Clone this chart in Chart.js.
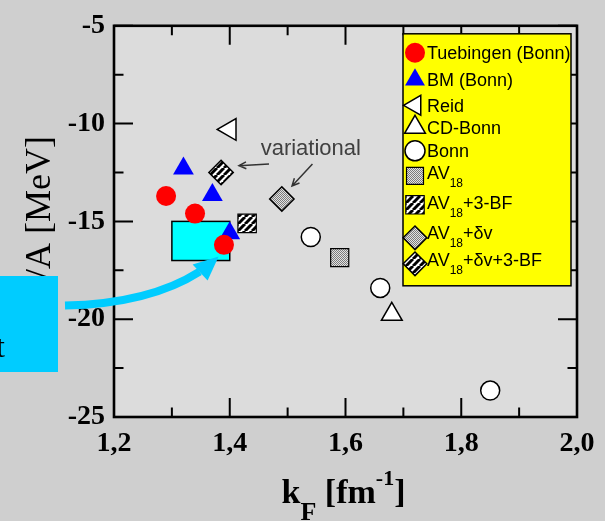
<!DOCTYPE html>
<html>
<head>
<meta charset="utf-8">
<script src="https://cdn.jsdelivr.net/npm/chart.js@4/dist/chart.umd.min.js"></script>
<style>
  html, body { margin: 0; padding: 0; background: #cfcfcf; }
  canvas { display: block; }
</style>
</head>
<body>
<canvas id="chart" width="605" height="521"></canvas>
<script>
// Nuclear matter saturation points: binding energy per nucleon E/A vs Fermi momentum kF
const tuebingenK = [1.29, 1.34, 1.39];
const tuebingenE = [-13.7, -14.6, -16.2];
const bmK = [1.32, 1.37, 1.40];
const bmE = [-12.3, -13.65, -15.6];
const reidK = [1.40];
const reidE = [-10.3];
const cdBonnK = [1.68];
const cdBonnE = [-19.75];
const bonnK = [1.54, 1.66, 1.85];
const bonnE = [-15.8, -18.4, -23.65];
const av18K = [1.59];
const av18E = [-16.85];
const av18bfK = [1.43];
const av18bfE = [-15.1];
const av18dvK = [1.49];
const av18dvE = [-13.85];
const av18dvbfK = [1.385];
const av18dvbfE = [-12.5];

// empirical saturation region
const empiricalK = [1.3, 1.4];
const empiricalE = [-17, -15];

// axis ticks
const xMajorTicks = [1.2, 1.4, 1.6, 1.8, 2.0];
const xMinorTicks = [1.3, 1.5, 1.7, 1.9];
const yMajorTicks = [-25, -20, -15, -10, -5];
const yMinorTicks = [-22.5, -17.5, -12.5, -7.5];

const legendLabels = ['Tuebingen (Bonn)', 'BM (Bonn)', 'Reid', 'CD-Bonn', 'Bonn',
  'AV18', 'AV18+3-BF', 'AV18+\u03B4v', 'AV18+\u03B4v+3-BF'];

// "variational" note and its two arrows (data space)
const noteText = 'variational';
const notePos = [1.4534, -11.6];
const noteArrows = [
  [[1.4678, -12.065], [1.4159, -12.15]],
  [[1.5429, -12.065], [1.5076, -13.185]]
];
// the big callout arrow points here
const calloutTarget = [1.379, -16.85];

const SERIF = "'Liberation Serif', 'Times New Roman', serif";
const SANS = "'Liberation Sans', Arial, sans-serif";

function makePattern(size, draw) {
  const c = document.createElement('canvas');
  c.width = c.height = size;
  const g = c.getContext('2d');
  draw(g, size);
  return g.createPattern(c, 'repeat');
}
const stipple = makePattern(4, (g, s) => {
  g.fillStyle = '#e2e2e2'; g.fillRect(0, 0, s, s);
  g.fillStyle = '#7c7c7c';
  for (let y = 0; y < s; y++) for (let x = 0; x < s; x++) if ((x + y) % 2 === 0) g.fillRect(x, y, 1, 1);
});
const stripes = makePattern(7, (g, s) => {
  g.fillStyle = '#ffffff'; g.fillRect(0, 0, s, s);
  g.strokeStyle = '#000000'; g.lineWidth = 3;
  for (const o of [-s, 0, s]) { g.beginPath(); g.moveTo(o, s); g.lineTo(o + s, 0); g.stroke(); }
});

function pts(k, e) { return k.map((v, i) => ({ x: v, y: e[i] })); }
function series(label, k, e, style, radius, fill, border, bw, rot) {
  return {
    label, data: pts(k, e), pointStyle: style, pointRadius: radius, pointHoverRadius: radius,
    pointRotation: rot || 0, pointBackgroundColor: fill, pointBorderColor: border,
    pointBorderWidth: bw, pointHoverBorderWidth: bw, showLine: false
  };
}

const datasets = [
  series(legendLabels[0], tuebingenK, tuebingenE, 'circle', 10, '#ff0000', '#ff0000', 0),
  series(legendLabels[1], bmK, bmE, 'triangle', 12, '#0000ff', '#0000ff', 0),
  series(legendLabels[2], reidK, reidE, 'triangle', 12.5, '#ffffff', '#000000', 1.5, -90),
  series(legendLabels[3], cdBonnK, cdBonnE, 'triangle', 12, '#ffffff', '#000000', 1.5),
  series(legendLabels[4], bonnK, bonnE, 'circle', 9.5, '#ffffff', '#000000', 1.5),
  series(legendLabels[5], av18K, av18E, 'rect', 12.8, stipple, '#000000', 1.2),
  series(legendLabels[6], av18bfK, av18bfE, 'rect', 13, stripes, '#000000', 1.2),
  series(legendLabels[7], av18dvK, av18dvE, 'rectRot', 12.2, stipple, '#000000', 1.5),
  series(legendLabels[8], av18dvbfK, av18dvbfE, 'rectRot', 12.2, stripes, '#000000', 1.5)
];

function drawMarker(ctx, ds, x, y, r) {
  ctx.save();
  ctx.fillStyle = ds.pointBackgroundColor;
  ctx.strokeStyle = ds.pointBorderColor;
  ctx.lineWidth = ds.pointBorderWidth;
  Chart.helpers.drawPoint(ctx, {
    pointStyle: ds.pointStyle, rotation: ds.pointRotation,
    radius: r, borderWidth: ds.pointBorderWidth
  }, x, y);
  ctx.restore();
}

function arrowLine(ctx, x0, y0, x1, y1) {
  const ang = Math.atan2(y1 - y0, x1 - x0), L = 8, spread = 0.45;
  ctx.beginPath();
  ctx.moveTo(x0, y0); ctx.lineTo(x1, y1);
  ctx.moveTo(x1 - L * Math.cos(ang - spread), y1 - L * Math.sin(ang - spread));
  ctx.lineTo(x1, y1);
  ctx.lineTo(x1 - L * Math.cos(ang + spread), y1 - L * Math.sin(ang + spread));
  ctx.stroke();
}

// pieces: [text, font, baseline offset]
function drawRuns(ctx, runs, x, y) {
  let cx = x;
  for (const [t, f, dy] of runs) {
    ctx.font = f;
    ctx.fillText(t, cx, y + dy);
    cx += ctx.measureText(t).width;
  }
  return cx;
}
function runsWidth(ctx, runs) {
  let w = 0;
  for (const [t, f] of runs) { ctx.font = f; w += ctx.measureText(t).width; }
  return w;
}

const decor = {
  id: 'decor',
  beforeDraw(chart) {
    const { ctx, chartArea: a } = chart;
    ctx.save();
    ctx.fillStyle = '#cfcfcf';
    ctx.fillRect(0, 0, chart.width, chart.height);
    ctx.fillStyle = '#dcdcdc';
    ctx.fillRect(a.left, a.top, a.right - a.left, a.bottom - a.top);
    ctx.restore();
  },
  beforeDatasetsDraw(chart) {
    const { ctx } = chart;
    const xs = chart.scales.x, ys = chart.scales.y;
    const x0 = xs.getPixelForValue(empiricalK[0]), x1 = xs.getPixelForValue(empiricalK[1]);
    const y0 = ys.getPixelForValue(empiricalE[1]), y1 = ys.getPixelForValue(empiricalE[0]);
    ctx.save();
    ctx.fillStyle = '#00ffff';
    ctx.fillRect(x0, y0, x1 - x0, y1 - y0);
    ctx.strokeStyle = '#000000';
    ctx.lineWidth = 1.5;
    ctx.strokeRect(x0, y0, x1 - x0, y1 - y0);
    ctx.restore();
  },
  afterDatasetsDraw(chart) {
    const { ctx, chartArea: a } = chart;
    const xs = chart.scales.x, ys = chart.scales.y;
    ctx.save();

    // frame with inward ticks on all four sides
    ctx.strokeStyle = '#000000';
    ctx.lineWidth = 2;
    const MAJ = 19, MIN = 9.5;
    const xTick = (v, len) => {
      const p = xs.getPixelForValue(v);
      ctx.beginPath();
      ctx.moveTo(p, a.bottom); ctx.lineTo(p, a.bottom - len);
      ctx.moveTo(p, a.top); ctx.lineTo(p, a.top + len);
      ctx.stroke();
    };
    const yTick = (v, len) => {
      const p = ys.getPixelForValue(v);
      ctx.beginPath();
      ctx.moveTo(a.left, p); ctx.lineTo(a.left + len, p);
      ctx.moveTo(a.right, p); ctx.lineTo(a.right - len, p);
      ctx.stroke();
    };
    xMajorTicks.forEach(v => xTick(v, MAJ));
    xMinorTicks.forEach(v => xTick(v, MIN));
    yMajorTicks.forEach(v => yTick(v, MAJ));
    yMinorTicks.forEach(v => yTick(v, MIN));
    ctx.lineWidth = 2.6;
    ctx.strokeRect(a.left, a.top, a.right - a.left, a.bottom - a.top);

    // legend
    const lw = 168, lh = 252;
    const lx = a.right - 6 - lw, ly = a.top + 8;
    ctx.fillStyle = '#ffff00';
    ctx.fillRect(lx, ly, lw, lh);
    ctx.lineWidth = 1.5;
    ctx.strokeStyle = '#000000';
    ctx.strokeRect(lx, ly, lw, lh);
    const rowMid = [19, 46, 71.5, 93.5, 117, 142, 171, 204, 230];
    const rowBase = [25, 51.7, 78.3, 100, 123.3, 145, 175, 205, 232];
    const legR = [10, 11.5, 11.5, 12, 10, 12, 13, 11.8, 11.8];
    const mainF = '18px ' + SANS, subF = '12px ' + SANS;
    datasets.forEach((ds, i) => {
      drawMarker(ctx, ds, lx + 12, ly + rowMid[i], legR[i]);
      ctx.fillStyle = '#000000';
      ctx.textBaseline = 'alphabetic';
      ctx.textAlign = 'left';
      const lab = ds.label;
      let runs;
      if (lab.startsWith('AV18')) {
        runs = [['AV', mainF, 0], ['18', subF, 8], [lab.slice(4), mainF, 0]];
      } else {
        runs = [[lab, mainF, 0]];
      }
      ctx.save();
      ctx.beginPath();
      ctx.rect(lx, ly, lw, lh);
      ctx.clip();
      drawRuns(ctx, runs, lx + 24, ly + rowBase[i]);
      ctx.restore();
    });

    // "variational" note
    ctx.fillStyle = '#404040';
    ctx.font = '22px ' + SANS;
    ctx.textAlign = 'left';
    ctx.textBaseline = 'alphabetic';
    ctx.fillText(noteText, xs.getPixelForValue(notePos[0]), ys.getPixelForValue(notePos[1]));
    ctx.strokeStyle = '#333333';
    ctx.lineWidth = 1.5;
    noteArrows.forEach(([p, q]) => {
      arrowLine(ctx, xs.getPixelForValue(p[0]), ys.getPixelForValue(p[1]),
        xs.getPixelForValue(q[0]), ys.getPixelForValue(q[1]));
    });

    // axis titles
    ctx.fillStyle = '#000000';
    const xRuns = [
      ['k', 'bold 34px ' + SERIF, 0],
      ['F', 'bold 26px ' + SERIF, 17],
      [' [fm', 'bold 34px ' + SERIF, 0],
      ['-1', 'bold 22px ' + SERIF, -18],
      [']', 'bold 34px ' + SERIF, 0]
    ];
    const xw = runsWidth(ctx, xRuns);
    drawRuns(ctx, xRuns, (a.left + a.right) / 2 - xw / 2 - 2, 503);

    ctx.save();
    ctx.translate(50, (a.top + a.bottom) / 2 - 3);
    ctx.rotate(-Math.PI / 2);
    ctx.font = '36px ' + SERIF;
    ctx.textAlign = 'center';
    ctx.textBaseline = 'alphabetic';
    ctx.fillText('E/A [MeV]', 0, 0);
    ctx.restore();

    // callout box at the left edge with its arrow towards the empirical region
    ctx.fillStyle = '#00ccff';
    ctx.fillRect(0, 276, 58, 96);
    ctx.fillStyle = '#000000';
    ctx.font = '32px ' + SERIF;
    ctx.textAlign = 'right';
    ctx.fillText('point', 5, 357);

    const tx = xs.getPixelForValue(calloutTarget[0]);
    const ty = ys.getPixelForValue(calloutTarget[1]);
    ctx.strokeStyle = '#00ccff';
    ctx.lineWidth = 8;
    ctx.lineCap = 'butt';
    ctx.beginPath();
    ctx.moveTo(65, ty + 48);
    ctx.quadraticCurveTo(tx - 68, ty + 46, tx - 18, ty + 14);
    ctx.stroke();
    ctx.fillStyle = '#00ccff';
    ctx.beginPath();
    ctx.moveTo(tx + 1, ty - 1);
    ctx.lineTo(tx - 25, ty + 7);
    ctx.lineTo(tx - 10, ty + 23);
    ctx.closePath();
    ctx.fill();

    ctx.restore();
  }
};

new Chart(document.getElementById('chart'), {
  type: 'scatter',
  data: { datasets },
  options: {
    responsive: false,
    animation: false,
    events: [],
    devicePixelRatio: 1,
    layout: { padding: { left: 0, right: 28, top: 17, bottom: 0 } },
    plugins: { legend: { display: false }, tooltip: { enabled: false } },
    scales: {
      x: {
        type: 'linear', min: 1.2, max: 2.0,
        afterFit: s => { s.height = 104; },
        grid: { display: false, drawTicks: false },
        border: { display: false },
        ticks: {
          stepSize: 0.2, padding: 10, color: '#000000',
          font: { family: SERIF, size: 28, weight: 'bold' },
          callback: v => Number(v).toFixed(1).replace('.', ',')
        }
      },
      y: {
        type: 'linear', min: -25, max: -5,
        afterFit: s => { s.width = 114; },
        grid: { display: false, drawTicks: false },
        border: { display: false },
        ticks: {
          stepSize: 5, padding: 9, color: '#000000',
          font: { family: SERIF, size: 28, weight: 'bold' },
          callback: v => String(v)
        }
      }
    }
  },
  plugins: [decor]
});
</script>
</body>
</html>
